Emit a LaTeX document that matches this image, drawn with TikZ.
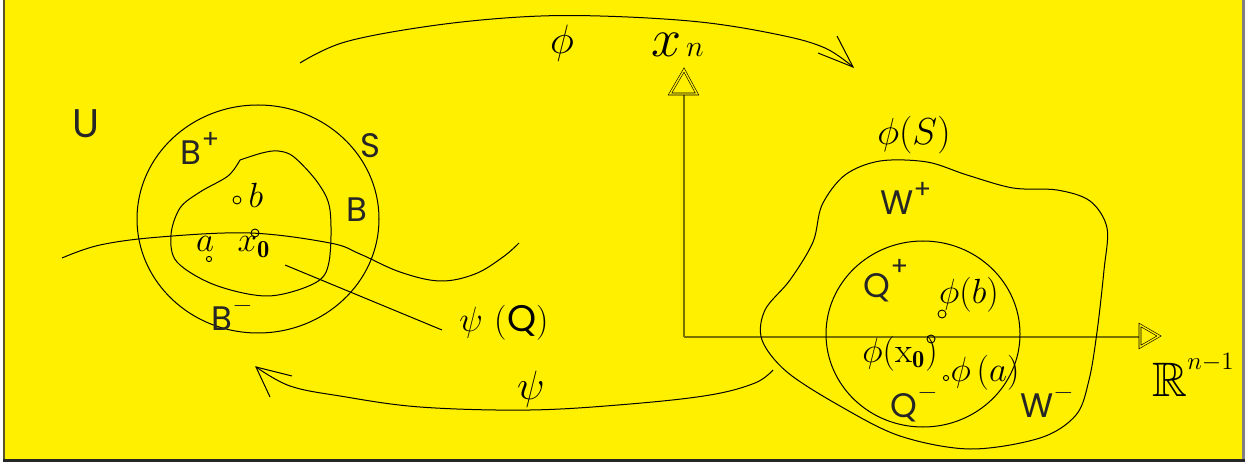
\RequirePackage{fix-cm}
\documentclass[tikz,border=0pt]{standalone}
\usepackage{amssymb}
\usepackage{fontspec}
\newfontfamily\labfont{Poppins}
\definecolor{bg}{RGB}{255,240,0}
\definecolor{axc}{RGB}{120,112,0}
\definecolor{framec}{RGB}{90,84,40}
\newcommand\upmark[2][8pt]{\raisebox{#1}{\fontsize{13}{13}\selectfont #2}}
\begin{document}
\begin{tikzpicture}[x=0.5pt,y=-0.5pt,
  thinln/.style={line width=0.5pt},
  axln/.style={draw=axc,line width=1.1pt},
  tri/.style={draw=black,line width=0.3pt,double=bg,double distance=0.7pt,line join=miter},
  lab/.style={font=\labfont\fontsize{17}{19}\selectfont,inner sep=0pt,text=black!85},
  labU/.style={font=\labfont\fontsize{20}{22}\selectfont,inner sep=0pt,text=black!85},
  mth/.style={font=\fontsize{17.5}{19}\selectfont,inner sep=0pt},
  mthbig/.style={font=\fontsize{20.5}{23}\selectfont,inner sep=0pt},
  ptbig/.style={circle,draw,line width=0.45pt,inner sep=0pt,minimum size=4pt},
  ptsm/.style={circle,draw,line width=0.45pt,inner sep=0pt,minimum size=2.6pt}]
\useasboundingbox (0,0) rectangle (1251,464);
\fill[white] (0,0) rectangle (1251,464);
\fill[bg] (5,0) rectangle (1243,460);
\draw[framec,line width=1.2pt] (4,0) -- (4,461);
\draw[gray,line width=1.2pt] (1243.5,0) -- (1243.5,461);
\draw[black!85,line width=1.2pt] (3,460.5) -- (1245,460.5);

% ---------- left figure ----------
\draw[thinln] (258,219) ellipse [x radius=121, y radius=114];
\draw[thinln] plot[smooth,tension=0.55] coordinates {
  (240,160) (262,153) (278,151) (294,157) (318,183) (330,210) (329,262)
  (315,283) (268,296) (215,285) (177,262) (171,235) (180,208) (200,192) (228,176) (240,160)};
\draw[thinln] plot[smooth,tension=0.6] coordinates {
  (62,258) (100,245) (160,237) (250,233) (330,243) (360,254) (400,272)
  (440,281) (475,274) (503,257) (519,243)};

\node[ptbig] (pb) at (237,200) {};
\node[ptbig] (px) at (255,233) {};
\node[ptsm] (pa) at (209,259) {};
\node[mth] (lb) at (256,195) {$b$};
\node[mth] (lx) at (254,247) {$x_{\mathbf 0}$};
\node[mth] (la) at (205,244) {$a$};

\node[labU] (lU) at (86,124) {U};
\node[lab] (lBp) at (200,148) {B\upmark{+}};
\node[lab] (lS) at (370,146) {S};
\node[lab] (lB) at (357,210) {B};
\node[lab] (lBm) at (232,314) {B\upmark[9pt]{$-$}};

\node[mth,anchor=west] (lpsiQ) at (459,323) {$\psi$\,\,({\labfont\fontsize{18.5}{19}\selectfont Q})};
\coordinate (qs) at (285,265);
\coordinate (qe) at (442,330);
\draw[thinln] (qs) -- (qe);

% ---------- top arrow phi ----------
\coordinate (phis) at (300,63);
\coordinate (phit) at (853,67);
\coordinate (phiw1) at (837,36);
\coordinate (phiw2) at (818,53);
\draw[thinln] plot[smooth,tension=0.6] coordinates {
  (300,63) (345,42) (430,26) (520,17) (600,16) (700,22) (780,35) (825,48) (853,67)};
\draw[thinln] (phiw1) -- (phit) -- (phiw2);
\node[mthbig] (lphi) at (562,43) {$\phi$};

% ---------- bottom arrow psi ----------
\coordinate (psit) at (256,367);
\coordinate (psiw1) at (292,376);
\coordinate (psiw2) at (270,397);
\draw[thinln] plot[smooth,tension=0.6] coordinates {
  (773,370) (755,383) (710,395) (630,404) (530,410) (420,407) (340,396) (290,386) (256,367)};
\draw[thinln] (psiw1) -- (psit) -- (psiw2);
\node[mthbig] (lpsi) at (531,389) {$\psi$};

% ---------- axes ----------
\coordinate (O) at (684,337);
\coordinate (ytop) at (684,94);
\coordinate (xend) at (1140,337);
\draw[axln] (O) -- (ytop);
\draw[axln] (O) -- (xend);
\draw[tri] (670,94) -- (684,70) -- (697,94) -- cycle;
\draw[tri] (1140,325) -- (1159,336) -- (1140,347) -- cycle;
\node[font=\fontsize{27}{29}\selectfont,inner sep=0pt] (lxn) at (667,45) {$x$};
\node[font=\fontsize{15}{17}\selectfont,inner sep=0pt] (lnn) at (695,50) {$n$};
\node[font=\fontsize{17.28}{19}\selectfont,inner sep=0pt,anchor=base west] (lR) at (1152,396)
  {\scalebox{1.4}{$\mathbb{R}$}\raisebox{13.5pt}{\fontsize{12.5}{14}\selectfont$n{-}1$}};

% ---------- right figure ----------
\draw[thinln] plot[smooth cycle,tension=0.55] coordinates {
  (880,161) (927,162) (967,175) (1013,188) (1057,190) (1090,201) (1107,228)
  (1104,270) (1097,332) (1089,380) (1076,415) (1040,438) (970,449) (900,436)
  (840,406) (787,372) (762,340) (765,310) (790,280) (813,242) (822,205) (845,175)};
\draw[thinln] (923,334) ellipse [x radius=97, y radius=93];

\node[ptbig] (qb) at (942,314) {};
\node[ptbig] (qx) at (931,339) {};
\node[ptsm] (qa) at (946,378) {};
\node[font=\fontsize{18.8}{20}\selectfont,inner sep=0pt] (lphiS) at (914,135) {$\phi(S)$};
\node[lab] (lWp) at (906,198) {W\upmark{+}};
\node[lab] (lQp) at (886,281) {Q\upmark[11pt]{+}};
\node[mth] (lphib) at (969,295) {$\phi(b)$};
\node[mth] (lphix) at (900,354) {$\phi(\mathrm{x}_{\mathbf 0})$};
\node[mth] (lphia) at (985,373) {$\phi\,(a)$};
\node[lab] (lQm) at (914,403) {Q\upmark[9pt]{$-$}};
\node[lab] (lWm) at (1047,401) {W\upmark[9pt]{$-$}};
\end{tikzpicture}
\end{document}
